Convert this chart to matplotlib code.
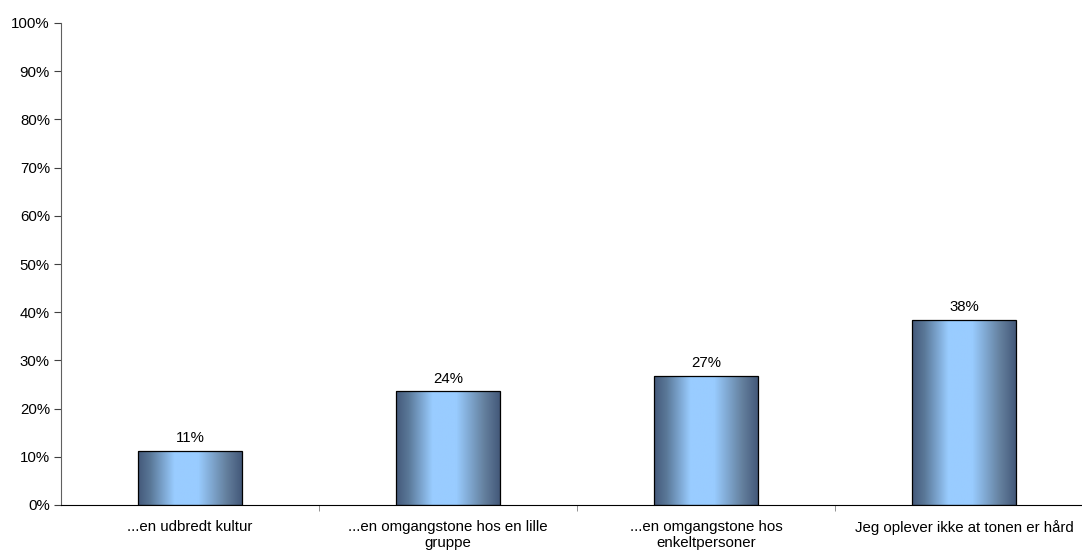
import numpy as np
import matplotlib.pyplot as plt
from matplotlib.colors import LinearSegmentedColormap
from matplotlib.patches import Rectangle

plt.rcParams['font.family'] = ['Liberation Sans', 'DejaVu Sans']

# Data
categories = ['...en udbredt kultur',
              '...en omgangstone hos en lille\ngruppe',
              '...en omgangstone hos\nenkeltpersoner',
              'Jeg oplever ikke at tonen er hård']
values = [11.3, 23.6, 26.8, 38.4]
labels = ['11%', '24%', '27%', '38%']

fig = plt.figure(figsize=(10.82, 5.53), dpi=100)
ax = fig.add_axes([61 / 1082, 48 / 553, 1032 / 1082, 482 / 553])

# gradient for bars (dark edges, light blue center)
cmap = LinearSegmentedColormap.from_list('bar', [
    (0.0, '#44597a'), (0.12, '#5a7898'), (0.35, '#99ccff'),
    (0.58, '#99ccff'), (0.85, '#64809e'), (1.0, '#44597a')])
grad = np.linspace(0, 1, 256).reshape(1, -1)

fs = 10.8
width = 0.40
x = np.arange(len(categories))
for xi, v, lab in zip(x, values, labels):
    left = xi - width / 2
    im = ax.imshow(grad, cmap=cmap, aspect='auto', extent=[left, left + width, 0, v],
                   interpolation='bilinear', zorder=2)
    rect = Rectangle((left, 0), width, v, facecolor='none', edgecolor='black', linewidth=0.9, zorder=3)
    ax.add_patch(rect)
    im.set_clip_path(rect)
    ax.annotate(lab, (xi, v), xytext=(0, 4), textcoords='offset points',
                ha='center', va='bottom', fontsize=fs)

ax.set_xlim(-0.5, len(categories) - 0.5)
ax.set_ylim(0, 100)

ax.set_yticks(range(0, 101, 10))
ax.set_yticklabels([f'{t}%' for t in range(0, 101, 10)], fontsize=fs)
ax.set_xticks(x)
ax.set_xticklabels(categories, fontsize=fs)
ax.tick_params(axis='x', length=0, pad=11)
ax.set_xticks(np.arange(0.5, len(categories) - 0.5, 1), minor=True)
ax.tick_params(axis='x', which='minor', length=4, color='#808080')
ax.tick_params(axis='y', length=5, color='#404040', pad=3)

for s in ['top', 'right']:
    ax.spines[s].set_visible(False)
ax.spines['left'].set_color('#606060')
ax.spines['bottom'].set_color('black')

fig.savefig('out.png', dpi=100)
